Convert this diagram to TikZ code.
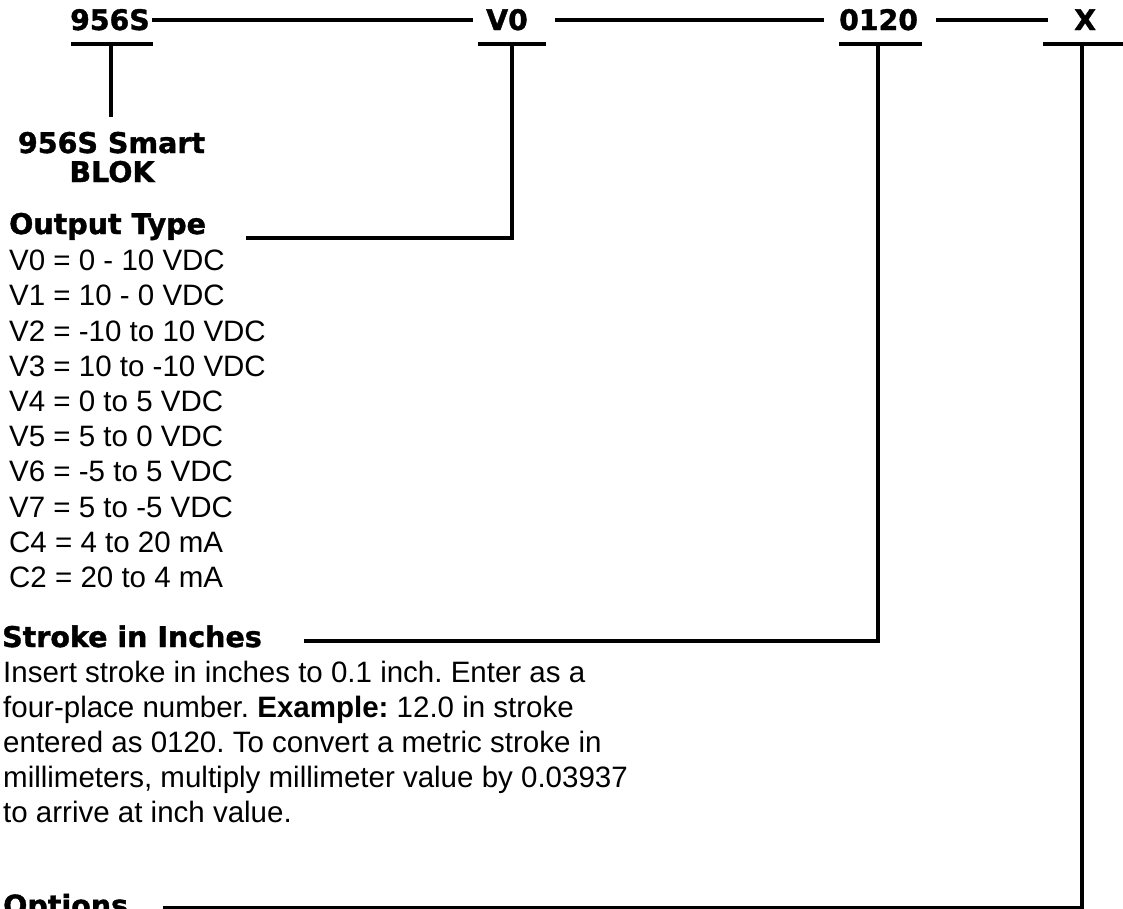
\documentclass[tikz,border=0pt]{standalone}
\usepackage{fontspec}
\setmainfont{Liberation Sans}
\newfontfamily\headfont{DejaVu Sans}[BoldFeatures={FakeBold=1.3}]
\frenchspacing
\begin{document}
\begin{tikzpicture}[x=1pt,y=-1pt,
  code/.style={font=\headfont\bfseries\fontsize{28.3}{30}\selectfont, inner sep=0pt, anchor=base west},
  head/.style={font=\headfont\bfseries\fontsize{28.5}{30}\selectfont, inner sep=0pt, anchor=base west},
  body/.style={font=\frenchspacing\fontsize{29.5}{35}\selectfont, inner sep=0pt, anchor=base west},
  ln/.style={line width=4pt, line cap=butt}]
\useasboundingbox (0,0) rectangle (1123,908);
% top row codes
\node[code] (c1) at (70,30) {956S};
\node[code] (c2) at (486,30) {V0};
\node[code] (c3) at (839,30) {0120};
\node[code] (c4) at (1074,30) {X};
% top connecting line segments
\coordinate (t1a) at (152,20); \coordinate (t1b) at (473,20);
\coordinate (t2a) at (555,20); \coordinate (t2b) at (824,20);
\coordinate (t3a) at (936,20); \coordinate (t3b) at (1048,20);
\draw[ln] (t1a) -- (t1b);
\draw[ln] (t2a) -- (t2b);
\draw[ln] (t3a) -- (t3b);
% underlines
\coordinate (u1a) at (71,43.5); \coordinate (u1b) at (153,43.5);
\coordinate (u2a) at (478,43.5); \coordinate (u2b) at (546,43.5);
\coordinate (u3a) at (839,43.5); \coordinate (u3b) at (922,43.5);
\coordinate (u4a) at (1043,44); \coordinate (u4b) at (1123,44);
\draw[ln] (u1a) -- (u1b);
\draw[ln] (u2a) -- (u2b);
\draw[ln] (u3a) -- (u3b);
\draw[ln] (u4a) -- (u4b);
% 956S Smart BLOK
\node[head, anchor=base] (smart) at (111.5,153) {956S Smart};
\node[head, anchor=base] (blok) at (112,182) {BLOK};
\coordinate (v1a) at (111,43.5); \coordinate (v1b) at (111,117);
\draw[ln] (v1a) -- (v1b);
% Output Type
\node[head] (out) at (9,234) {Output Type};
\coordinate (v2a) at (512,43.5); \coordinate (v2b) at (512,238); \coordinate (h2) at (246,238);
\draw[ln] (v2a) -- (v2b) -- (h2);
\foreach \t [count=\i from 0] in {V0 = 0 - 10 VDC, V1 = 10 - 0 VDC, V2 = -10 to 10 VDC, V3 = 10 to -10 VDC, V4 = 0 to 5 VDC, V5 = 5 to 0 VDC, V6 = -5 to 5 VDC, V7 = 5 to -5 VDC, C4 = 4 to 20 mA, C2 = 20 to 4 mA}
  \node[body] (o\i) at (9,270.7+35.2*\i) {\t};
% Stroke in Inches
\node[head] (stroke) at (2,647) {Stroke in Inches};
\coordinate (v3a) at (878,43.5); \coordinate (v3b) at (878,641); \coordinate (h3) at (304,641);
\draw[ln] (v3a) -- (v3b) -- (h3);
\node[body] (p1) at (3,682.7) {Insert stroke in inches to 0.1 inch. Enter as a};
\node[body] (p2) at (3,717.7) {four-place number. \textbf{Example:} 12.0 in stroke};
\node[body] (p3) at (3,752.7) {entered as 0120. To convert a metric stroke in};
\node[body] (p4) at (3,787.7) {millimeters, multiply millimeter value by 0.03937};
\node[body] (p5) at (3,822.7) {to arrive at inch value.};
% Options
\node[head] (opt) at (3,915.5) {Options};
\coordinate (v4a) at (1082,44); \coordinate (v4b) at (1082,908); \coordinate (h4) at (163,908);
\draw[ln] (v4a) -- (v4b) -- (h4);
\end{tikzpicture}
\end{document}
